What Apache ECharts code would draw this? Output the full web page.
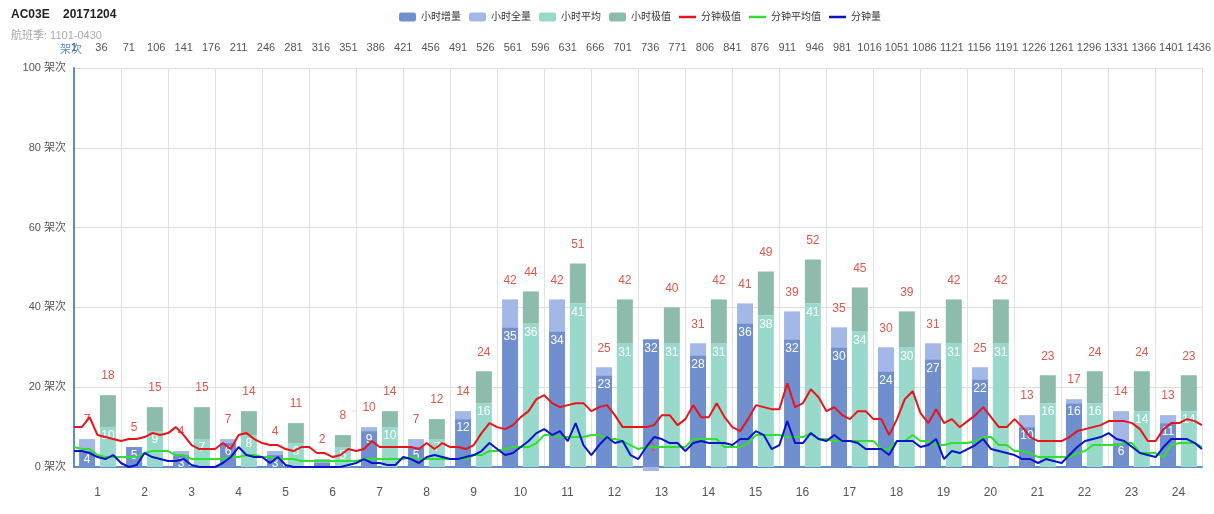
<!DOCTYPE html>
<html>
<head>
<meta charset="utf-8">
<title>AC03E 20171204</title>
<script src="https://cdn.jsdelivr.net/npm/echarts@6/dist/echarts.min.js"></script>
<style>
    html, body { margin: 0; padding: 0; background: #fff; }
    #chart { width: 1214px; height: 514px; }
</style>
</head>
<body>
<div id="chart"></div>
<script>
// 小时数据
const hours = ["1", "2", "3", "4", "5", "6", "7", "8", "9", "10", "11", "12",
    "13", "14", "15", "16", "17", "18", "19", "20", "21", "22", "23", "24"];
const hourInc = [4, 5, 3, 6, 3, 1, 9, 5, 12, 35, 34, 23, 32, 28, 36, 32, 30, 24, 27, 22, 10, 16, 6, 11];
const hourAll = [7, 5, 4, 7, 4, 2, 10, 7, 14, 42, 42, 25, 31, 31, 41, 39, 35, 30, 31, 25, 13, 17, 14, 13];
const hourAvg = [10, 9, 7, 8, 6, 5, 10, 7, 16, 36, 41, 31, 31, 31, 38, 41, 34, 30, 31, 31, 16, 16, 14, 14];
const hourMax = [18, 15, 15, 14, 11, 8, 14, 12, 24, 44, 51, 42, 40, 42, 49, 52, 45, 39, 42, 42, 23, 24, 24, 23];

// 分钟曲线 每10分钟一个点(第1,11,21...1431分钟, 最后一个是第1440分钟)
const minMax = [
    10, 10, 12.5, 8, 7.5, 7, 6.5, 7, 7, 7.5, 8.5, 8, 8.5, 10, 8, 5.5, 4.5, 4.5, 4.5, 6,
    4.5, 8, 8.5, 7, 6, 5.5, 5.5, 4.5, 4, 5, 5, 3.5, 3.5, 2.5, 3, 4.5, 4,
    4.5, 6.5, 5, 5, 5, 5, 5, 4.5, 6, 4.5, 6, 5, 5, 4.5, 5.5, 8.5, 11, 10, 9.5, 10.5,
    12.5, 14, 17, 18, 16, 15, 15.5, 16, 16, 14, 15, 15.5, 13, 10, 10, 10,
    10, 10.5, 13, 13, 10.5, 12, 15.5, 12.5, 12.5, 16, 12.5, 10, 9, 12, 15.5, 15, 14.5, 14.5,
    21, 15, 16, 19.5, 17.5, 14, 15, 13, 12, 14, 14, 12, 12, 8, 12, 17, 19, 13.5, 11,
    14.5, 11, 12, 10, 11.5, 13, 15, 12.5, 10, 10, 12, 10, 7.5, 6.5, 6.5, 6.5, 6.5, 7.5,
    9, 9.5, 10, 10.5, 11.5, 11.5, 11.5, 11, 9.5, 6.5, 6.5, 9.5, 11, 11, 12, 11.5, 10.5
];
const minAvg = [
    5, 4.5, 4.5, 3, 2.5, 2.5, 2.5, 2.5, 2.5, 3.5, 4, 4, 4, 3, 3, 2, 2, 2, 2, 2,
    2.5, 2.5, 3, 3, 2.5, 2.5, 2, 2, 2, 1.5, 1.5, 1.5, 1.5, 1.5, 1.5, 1.5, 1.5,
    2, 2, 2, 2, 2, 2, 2.5, 2, 2, 2, 2, 2, 2, 2, 3, 3, 4, 4, 4.5, 5,
    5, 5, 6, 8, 8, 7.5, 7.5, 7.5, 7.5, 8, 8, 7, 7, 6.5, 5.5, 4.5,
    5, 5, 5, 5, 5, 5, 7, 7, 7, 7, 5, 5, 5, 6, 8, 8, 8, 8,
    7.5, 7.5, 7.5, 8.5, 7, 7, 6.5, 6.5, 6.5, 6.5, 6.5, 6.5, 4.5, 4.5, 6.5, 6.5, 8, 6.5, 6.5,
    5.5, 5.5, 6, 6, 6, 6.5, 7.5, 7.5, 5.5, 5.5, 4, 4, 3.5, 2.5, 2.5, 2.5, 2.5, 2.5,
    3.5, 4, 5.5, 5.5, 5.5, 5.5, 6, 6, 3.5, 3.5, 3.5, 2.5, 5.5, 6, 6, 6, 5
];
const minCount = [
    4, 4, 3.5, 2.5, 2, 3, 1, 0, 0.5, 3.5, 2.5, 2, 1.5, 1.5, 2, 0.5, 0, 0, 0, 1,
    2.5, 5, 3, 2.5, 2.5, 1, 2.5, 0.5, 0, 0, 0, 0, 0, 0, 0, 0.5, 1,
    2, 1, 1, 0.5, 0.5, 2.5, 2, 1, 2.5, 3, 2.5, 2, 2, 2.5, 3, 4, 6, 4.5, 3, 3.5,
    5, 6.5, 8.5, 9.5, 8, 9, 6.5, 11, 5.5, 3, 5.5, 7.5, 6, 6.5, 3, 2,
    5, 7.5, 7, 6, 6, 4, 6, 6.5, 6, 6, 6, 5.5, 7, 7, 9, 8, 4.5, 5.5,
    11.5, 6, 6, 8.5, 7, 6.5, 8, 6.5, 6.5, 6, 4.5, 4.5, 4.5, 3, 6.5, 6.5, 6.5, 5, 5.5,
    7, 2, 4, 3.5, 4.5, 5.5, 7, 4.5, 4, 3.5, 3, 2, 2, 1, 2, 1.5, 1, 3,
    5, 6.5, 7, 7.5, 8.5, 7, 6.5, 5, 3.5, 3, 2.5, 5, 7, 7, 7, 6, 4.5
];

const FONT = 'Arial, "Liberation Sans", "Noto Sans CJK SC", sans-serif';
const AXIS_BLUE = "#5b8ec9";
const LABEL_RED = "#e0584c";
// 图例里的线条图标(不要圆点)
const LINE_ICON = "path://M0,0 H17 V2.5 H0 Z";

// 顶部分钟轴 1..1440
const minutes = [];
for (let i = 1; i <= 1440; i++) minutes.push(String(i));

// 采样点 -> [分钟序号, 值]
const toPoints = arr => arr.map((v, i) => [Math.min(i * 10, 1439), v]);

const insideLabel = { show: true, position: "insideTop", distance: 3, color: "#fff", fontSize: 12, fontFamily: FONT };

const chart = echarts.init(document.getElementById("chart"));
chart.setOption({
    animation: false,
    textStyle: { fontFamily: FONT },
    title: {
        text: "AC03E    20171204",
        subtext: "航班季: 1101-0430",
        left: 6,
        top: 4,
        itemGap: 9,
        textStyle: { fontSize: 12, fontWeight: "bold", color: "#222", fontFamily: FONT },
        subtextStyle: { fontSize: 11, color: "#aaa", fontFamily: FONT }
    },
    legend: {
        left: 394,
        top: 7,
        itemWidth: 17,
        itemHeight: 9,
        itemGap: 8,
        textStyle: { fontSize: 10, color: "#333", fontFamily: FONT },
        data: [
            "小时增量", "小时全量", "小时平均", "小时极值",
            { name: "分钟极值", icon: LINE_ICON },
            { name: "分钟平均值", icon: LINE_ICON },
            { name: "分钟量", icon: LINE_ICON }
        ]
    },
    grid: { left: 74, right: 10, top: 68, bottom: 47 },
    xAxis: [
        {
            type: "category",
            data: hours,
            axisLine: { lineStyle: { color: AXIS_BLUE, width: 2 } },
            axisTick: { length: 4, lineStyle: { color: "#bbb" } },
            axisLabel: { color: "#555", fontSize: 12, margin: 20 },
            splitLine: { show: true, lineStyle: { color: "#e2e2e2" } }
        },
        {
            type: "category",
            position: "top",
            data: minutes,
            boundaryGap: false,
            axisLine: { show: false },
            axisTick: { show: false },
            axisLabel: { interval: 34, color: "#555", fontSize: 11, margin: 15 },
            splitLine: { show: false }
        }
    ],
    yAxis: {
        type: "value",
        min: 0,
        max: 100,
        interval: 20,
        name: "架次",
        nameGap: 13,
        nameMoveOverlap: false,
        nameTextStyle: { color: AXIS_BLUE, fontSize: 11, padding: [0, 6, 0, 0] },
        axisLine: { show: true, lineStyle: { color: AXIS_BLUE, width: 2 } },
        axisTick: { show: false },
        axisLabel: { formatter: "{value} 架次", color: "#555", fontSize: 11 },
        splitLine: { lineStyle: { color: "#ddd" } }
    },
    series: [
        {
            name: "小时增量",
            type: "bar",
            stack: "all",
            barWidth: 16,
            barGap: "30%",
            data: hourInc,
            itemStyle: { color: "#6f8fcf" },
            label: insideLabel
        },
        {
            name: "小时全量",
            type: "bar",
            stack: "all",
            barWidth: 16,
            barGap: "30%",
            clip: false,
            data: hourAll.map((v, i) => v - hourInc[i]),
            itemStyle: { color: "#a3b8e6" },
            label: {
                show: true,
                position: "top",
                distance: 13,
                color: LABEL_RED,
                fontSize: 12,
                formatter: p => (p.value < 0 ? p.value : hourAll[p.dataIndex])
            }
        },
        {
            name: "小时平均",
            type: "bar",
            stack: "max",
            barWidth: 16,
            barGap: "30%",
            data: hourAvg,
            itemStyle: { color: "#99d9cb" },
            label: insideLabel
        },
        {
            name: "小时极值",
            type: "bar",
            stack: "max",
            barWidth: 16,
            barGap: "30%",
            data: hourMax.map((v, i) => v - hourAvg[i]),
            itemStyle: { color: "#8dbcad" },
            label: {
                show: true,
                position: "top",
                distance: 13,
                color: LABEL_RED,
                fontSize: 12,
                formatter: p => hourMax[p.dataIndex]
            }
        },
        {
            name: "分钟极值",
            type: "line",
            xAxisIndex: 1,
            symbol: "none",
            z: 5,
            data: toPoints(minMax),
            itemStyle: { color: "#e8141a" },
            lineStyle: { width: 2, color: "#e8141a" }
        },
        {
            name: "分钟平均值",
            type: "line",
            xAxisIndex: 1,
            symbol: "none",
            z: 5,
            data: toPoints(minAvg),
            itemStyle: { color: "#2fe02f" },
            lineStyle: { width: 2, color: "#2fe02f" }
        },
        {
            name: "分钟量",
            type: "line",
            xAxisIndex: 1,
            symbol: "none",
            z: 5,
            data: toPoints(minCount),
            itemStyle: { color: "#0a14c8" },
            lineStyle: { width: 2, color: "#0a14c8" }
        }
    ]
});
</script>
</body>
</html>
